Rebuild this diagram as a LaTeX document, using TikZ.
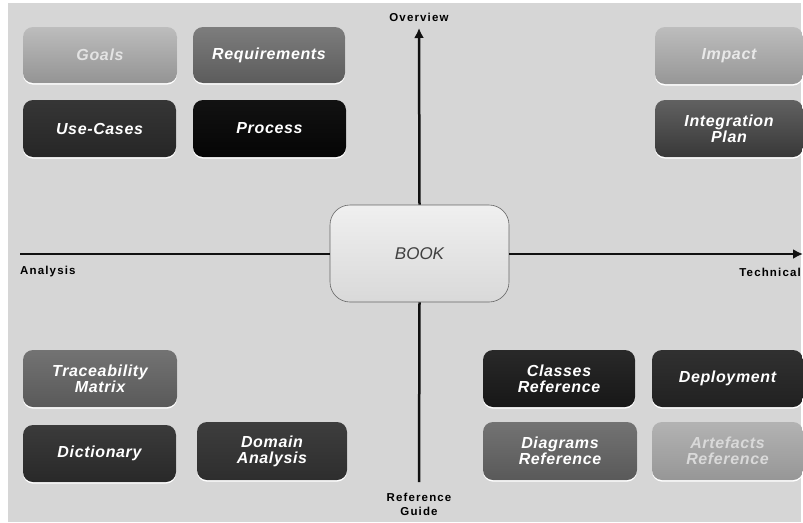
\documentclass[tikz,border=0pt]{standalone}
\usepackage{fontspec}
\setmainfont{Liberation Sans}
\usetikzlibrary{arrows.meta}
\definecolor{bgc}{HTML}{D6D6D6}
\definecolor{axisc}{HTML}{111111}
\tikzset{
  box/.style={rounded corners=10pt, inner sep=2pt, align=center,
    font=\fontsize{16}{16}\selectfont\bfseries\itshape\addfontfeatures{LetterSpace=4},
    text=white,
    preaction={fill=white, transform canvas={yshift=-1.6pt}}},
  shadegrey/.style 2 args={top color=black!#1, bottom color=black!#2},
  axis/.style={draw=axisc, line width=2.5pt},
  axtip/.style={-{Latex[length=10pt,width=10pt]}},
  axlabel/.style={font=\fontsize{11.5}{13}\selectfont\bfseries\addfontfeatures{LetterSpace=10}, text=black, inner sep=0pt, align=center},
}
\begin{document}
\begin{tikzpicture}[x=1pt,y=-1pt]
\useasboundingbox (0,0) rectangle (803,522);
\fill[bgc] (8,3) rectangle (801,522);

% central node
\node[rounded corners=20pt, draw=gray!80!black, line width=0.6pt,
      top color=gray!12, bottom color=gray!30,
      minimum width=179pt, minimum height=97pt,
      font=\fontsize{17}{17}\selectfont\itshape, text=black!75] (book) at (419.5,253.5) {BOOK};

% axes
\coordinate (ovrtip) at (419,28);
\coordinate (refend) at (419,482);
\coordinate (anaend) at (20,254);
\coordinate (techtip) at (803,254);
\draw[axis, axtip] (book.north) -- (ovrtip);
\draw[axis] (book.south) -- (refend);
\draw[axis] (anaend) -- (book.west |- anaend);
\draw[axis, axtip] (book.east |- techtip) -- (techtip);

\node[axlabel] (ovr) at (419,17) {Overview};
\node[axlabel, anchor=west] (ana) at (20,272) {Analysis};
\node[axlabel, anchor=east] (tech) at (801,272) {Technical};
\node[axlabel, font=\fontsize{11.5}{14}\selectfont\bfseries\addfontfeatures{LetterSpace=10}] (refg) at (419,504) {Reference\\Guide};

% top-left
\node[box, shadegrey={26}{42}, text=black!11, minimum width=154pt, minimum height=56pt] (goals) at (100,55) {Goals};
\node[box, shadegrey={51}{64}, minimum width=152pt, minimum height=56pt] (req) at (269,55) {Requirements};
\node[box, shadegrey={79}{85}, minimum width=153pt, minimum height=57pt] (uc) at (99.5,128.5) {Use-Cases};
\node[box, shadegrey={93}{98}, minimum width=153pt, minimum height=57pt] (proc) at (269.5,128.5) {Process};

% top-right
\node[box, shadegrey={26}{41}, text=black!9, minimum width=148pt, minimum height=57pt] (impact) at (729,55.5) {Impact};
\node[box, shadegrey={62}{78}, minimum width=148pt, minimum height=57pt] (integ) at (729,128.5) {Integration\\Plan};

% bottom-left
\node[box, shadegrey={55}{65}, minimum width=154pt, minimum height=57pt] (trace) at (100,378.5) {Traceability\\Matrix};
\node[box, shadegrey={77}{84}, minimum width=153pt, minimum height=57pt] (dict) at (99.5,453.5) {Dictionary};
\node[box, shadegrey={76}{82}, minimum width=150pt, minimum height=58pt] (domain) at (272,451) {Domain\\Analysis};

% bottom-right
\node[box, shadegrey={84}{91}, minimum width=152pt, minimum height=57pt] (classes) at (559,378.5) {Classes\\Reference};
\node[box, shadegrey={81}{87}, minimum width=151pt, minimum height=57pt] (deploy) at (727.5,378.5) {Deployment};
\node[box, shadegrey={55}{65}, minimum width=154pt, minimum height=58pt] (diag) at (560,451) {Diagrams\\Reference};
\node[box, shadegrey={30}{41}, text=black!15, minimum width=151pt, minimum height=58pt] (artef) at (727.5,451) {Artefacts\\Reference};
\end{tikzpicture}
\end{document}
